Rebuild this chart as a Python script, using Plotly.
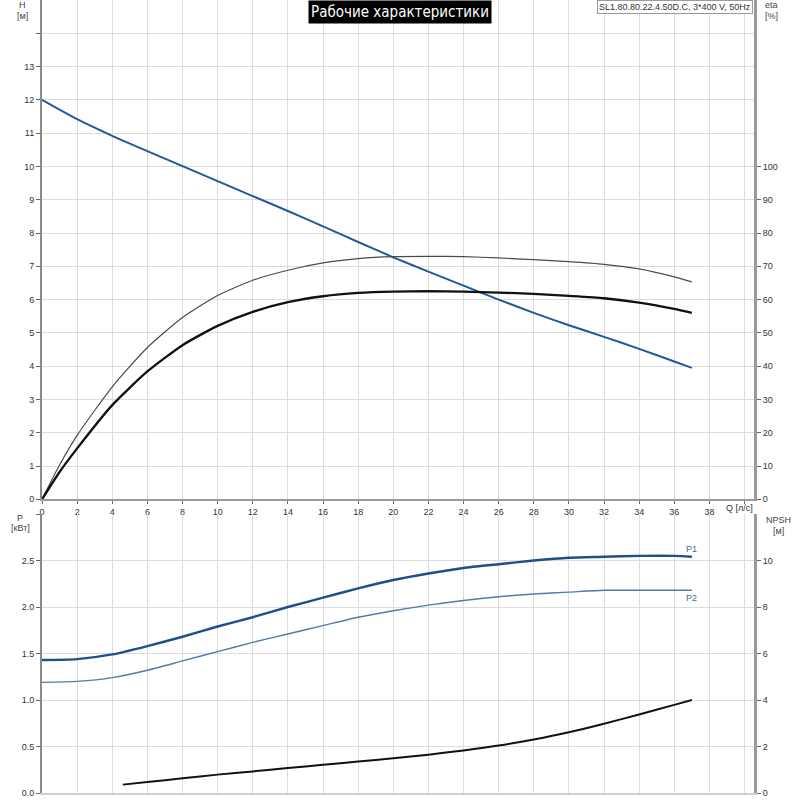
import plotly.graph_objects as go

# ---------------- data ----------------
Q = [0, 2, 4, 6, 8, 10, 12, 14, 16, 18, 20, 22, 24, 26, 28, 30, 32, 34, 36, 37]
H = [12.0, 11.42, 10.92, 10.46, 10.01, 9.56, 9.11, 8.66, 8.2, 7.73, 7.27,
     6.84, 6.42, 6.0, 5.6, 5.23, 4.88, 4.52, 4.14, 3.95]
Q_eta = [0, 1, 2, 4, 6, 8, 10, 12, 14, 16, 18, 20, 22, 24, 26, 28, 30, 32, 34, 36, 37]
eta_thin = [0, 10.3, 19.2, 33.8, 45.6, 54.6, 61.2, 65.8, 68.8, 71.0, 72.3, 72.9,
            73.0, 72.9, 72.5, 72.0, 71.4, 70.6, 69.2, 66.8, 65.3]
eta_thick = [0, 8.2, 15.3, 28.3, 38.4, 46.3, 52.1, 56.3, 59.2, 61.0, 62.0, 62.4,
             62.5, 62.4, 62.1, 61.7, 61.1, 60.4, 59.1, 57.2, 56.0]
P1 = [1.43, 1.44, 1.49, 1.58, 1.68, 1.79, 1.89, 2.0, 2.1, 2.2, 2.29,
      2.36, 2.42, 2.46, 2.5, 2.53, 2.54, 2.55, 2.55, 2.54]
P2 = [1.19, 1.2, 1.24, 1.32, 1.42, 1.52, 1.62, 1.71, 1.8, 1.89, 1.96,
      2.02, 2.07, 2.11, 2.14, 2.16, 2.18, 2.18, 2.18, 2.18]
Q_npsh = [4.6, 6, 8, 10, 12, 14, 16, 18, 20, 22, 24, 26, 28, 30, 32, 34, 36, 37]
NPSH = [0.36, 0.47, 0.63, 0.79, 0.93, 1.07, 1.21, 1.35, 1.5, 1.65, 1.83, 2.04,
        2.3, 2.61, 2.98, 3.38, 3.79, 4.0]

q_ticks = list(range(0, 40, 2))
h_ticks = list(range(0, 14))
eta_ticks = list(range(0, 101, 10))
p_ticks = [0.0, 0.5, 1.0, 1.5, 2.0, 2.5]
npsh_ticks = [0, 2, 4, 6, 8, 10]

TITLE = "Рабочие характеристики"
MODEL = "SL1.80.80.22.4.50D.C, 3*400 V, 50Hz"

# ---------------- layout geometry ----------------
W, HT = 800, 800
ML, MR, MT, MB = 42, 46, 0, 7
PW = W - ML - MR
PH = HT - MT - MB


def px(xp):
    return (xp - ML) / PW


def py(yp):
    return (HT - MB - yp) / PH


FONT = "Liberation Sans, Arial, sans-serif"
TICKF = dict(family=FONT, size=9, color="#333")
GRID = "#dcdcdc"
SM = 0.6

fig = go.Figure()

fig.add_trace(go.Scatter(x=Q, y=H, mode="lines", line=dict(color="#22599a", width=2, shape="spline", smoothing=SM),
                         xaxis="x", yaxis="y", hoverinfo="skip"))
fig.add_trace(go.Scatter(x=Q_eta, y=eta_thin, mode="lines", line=dict(color="#4a4a4a", width=1.2, shape="spline", smoothing=SM),
                         xaxis="x", yaxis="y2", hoverinfo="skip"))
fig.add_trace(go.Scatter(x=Q_eta, y=eta_thick, mode="lines", line=dict(color="#111111", width=2.3, shape="spline", smoothing=SM),
                         xaxis="x", yaxis="y2", hoverinfo="skip"))
fig.add_trace(go.Scatter(x=Q, y=P1, mode="lines", line=dict(color="#1f4f8b", width=2.4, shape="spline", smoothing=SM),
                         xaxis="x2", yaxis="y3", hoverinfo="skip"))
fig.add_trace(go.Scatter(x=Q, y=P2, mode="lines", line=dict(color="#4f7cad", width=1.4, shape="spline", smoothing=SM),
                         xaxis="x2", yaxis="y3", hoverinfo="skip"))
fig.add_trace(go.Scatter(x=Q_npsh, y=NPSH, mode="lines", line=dict(color="#111111", width=2, shape="spline", smoothing=SM),
                         xaxis="x2", yaxis="y4", hoverinfo="skip"))

XMAX = 40.54
top_dom = [py(499.3), 1.0]
bot_dom = [0.0, py(514)]

common = dict(automargin=False, zeroline=False, fixedrange=True)

fig.update_layout(
    width=W, height=HT,
    margin=dict(l=ML, r=MR, t=MT, b=MB, pad=0, autoexpand=False),
    paper_bgcolor="white", plot_bgcolor="white",
    showlegend=False,
    font=dict(family=FONT, size=9, color="#333"),
    xaxis=dict(domain=[0, 1], anchor="y", range=[0, XMAX],
               tickvals=q_ticks + [40], ticktext=[str(v) for v in q_ticks] + [""],
               showgrid=True, gridcolor=GRID, gridwidth=1,
               showline=True, linecolor="#9a9a9a", linewidth=2,
               ticks="outside", ticklen=3, tickcolor="#666", tickfont=TICKF, **common),
    yaxis=dict(domain=top_dom, anchor="x", range=[0, 15],
               tickvals=h_ticks + [14], ticktext=[str(v) for v in h_ticks] + [""],
               showgrid=True, gridcolor=GRID, gridwidth=1,
               showline=True, linecolor="#8a8a8a", linewidth=2,
               ticks="outside", ticklen=4, tickcolor="#666", tickfont=TICKF, **common),
    yaxis2=dict(overlaying="y", side="right", anchor="x", range=[0, 150],
                tickvals=eta_ticks, ticktext=[str(v) for v in eta_ticks],
                showgrid=False,
                showline=True, linecolor="#9a9a9a", linewidth=3,
                ticks="outside", ticklen=4, tickcolor="#666", tickfont=TICKF, **common),
    xaxis2=dict(domain=[0, 1], anchor="y3", range=[0, XMAX],
                tickvals=q_ticks + [40], showticklabels=False,
                showgrid=True, gridcolor=GRID, gridwidth=1,
                showline=True, linecolor="#cfcfcf", linewidth=2,
                ticks="", **common),
    yaxis3=dict(domain=bot_dom, anchor="x2", range=[0, 3.0],
                tickvals=p_ticks + [3.0], ticktext=["%.1f" % v for v in p_ticks] + [""],
                showgrid=True, gridcolor=GRID, gridwidth=1,
                showline=True, linecolor="#8a8a8a", linewidth=2,
                ticks="outside", ticklen=4, tickcolor="#666", tickfont=TICKF, **common),
    yaxis4=dict(overlaying="y3", side="right", anchor="x2", range=[0, 12],
                tickvals=npsh_ticks, ticktext=[str(v) for v in npsh_ticks],
                showgrid=False,
                showline=True, linecolor="#9a9a9a", linewidth=3,
                ticks="outside", ticklen=4, tickcolor="#666", tickfont=TICKF, **common),
)

ann = []


def label(text, xp, yp, size=9, xanchor="center", yanchor="middle", color="#444"):
    ann.append(dict(text=text, x=px(xp), y=py(yp), xref="paper", yref="paper",
                    xanchor=xanchor, yanchor=yanchor, showarrow=False,
                    font=dict(family=FONT, size=size, color=color)))


label("H", 22, 5)
label("[м]", 22, 16)
label("eta", 771, 5)
label("[%]", 771, 16)
label("P", 20, 518)
label("[кВт]", 20, 528)
label("NPSH", 778, 520)
label("[м]", 778, 531)
label("Q [л/с]", 739, 508, color="#333")

# curve labels
ann.append(dict(text="P1", x=Q[-1], y=P1[-1], xref="x2", yref="y3", xanchor="center", yanchor="bottom",
                yshift=1, showarrow=False, font=dict(family=FONT, size=9, color="#3a6aa0")))
ann.append(dict(text="P2", x=Q[-1], y=P2[-1], xref="x2", yref="y3", xanchor="center", yanchor="top",
                yshift=-1, showarrow=False, font=dict(family=FONT, size=9, color="#3a6aa0")))

# title box
ann.append(dict(text=TITLE, x=px(400), y=1.0, xref="paper", yref="paper", xanchor="center", yanchor="top",
                showarrow=False, bgcolor="black", borderpad=2,
                font=dict(family="Liberation Sans Narrow, DejaVu Sans Condensed, Liberation Sans, Arial, sans-serif",
                          size=15, color="white")))
# model box
ann.append(dict(text=MODEL, x=px(753), y=1.0, xref="paper", yref="paper", xanchor="right", yanchor="top",
                showarrow=False, bgcolor="white", bordercolor="#999", borderwidth=1, borderpad=1,
                font=dict(family=FONT, size=9, color="#333")))

fig.update_layout(annotations=ann)

fig.write_html("out.html", config={"displayModeBar": False},
               post_script="document.body.style.margin='0px';document.body.style.overflow='hidden';")
